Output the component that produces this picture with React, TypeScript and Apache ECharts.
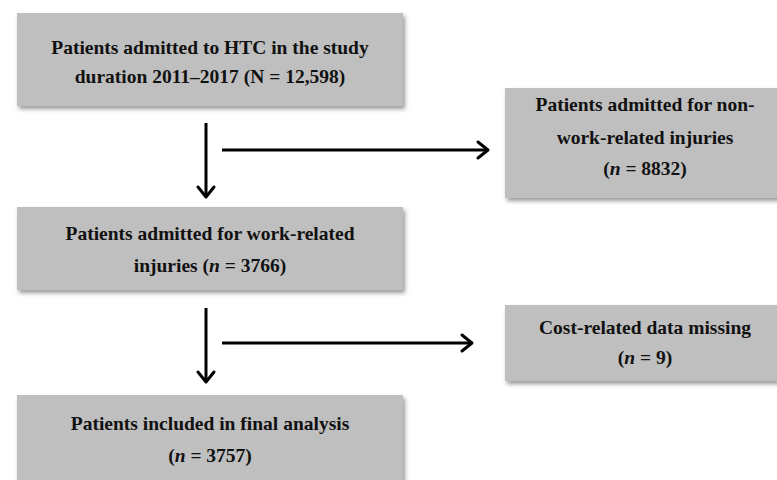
import React, { useEffect, useRef } from "react";
import * as echarts from "echarts";

const box1Lines = ["Patients admitted to HTC in the study", "duration 2011–2017 (N = 12,598)"];
const box2Lines = ["Patients admitted for non-", "work-related injuries", "({i|n} = 8832)"];
const box3Lines = ["Patients admitted for work-related", "injuries ({i|n} = 3766)"];
const box4Lines = ["Cost-related data missing", "({i|n} = 9)"];
const box5Lines = ["Patients included in final analysis", "({i|n} = 3757)"];

const FONT = "Liberation Serif";
const FS = 19.5;
const BOX_FILL = "#bfbfbf";

function boxEl(x: number, y: number, w: number, h: number, lines: string[], lineYs: number[]) {
  const children: any[] = [
    {
      type: "rect",
      shape: { x, y, width: w, height: h },
      style: {
        fill: BOX_FILL,
        shadowBlur: 4,
        shadowOffsetX: 2,
        shadowOffsetY: 3,
        shadowColor: "rgba(0,0,0,0.4)",
      },
    },
  ];
  lines.forEach((t, i) => {
    children.push({
      type: "text",
      x: x + w / 2,
      y: lineYs[i],
      style: {
        text: t,
        fill: "#111",
        fontFamily: FONT,
        fontWeight: "bold",
        fontSize: FS,
        align: "center",
        verticalAlign: "middle",
        rich: {
          i: { fontStyle: "italic", fontWeight: "bold", fontSize: FS, fontFamily: FONT, fill: "#111" },
        },
      },
    });
  });
  return { type: "group", children };
}

function arrowDown(x: number, y1: number, y2: number) {
  return [
    { type: "line", shape: { x1: x, y1, x2: x, y2: y2 - 1 }, style: { stroke: "#000", lineWidth: 3 } },
    {
      type: "polyline",
      shape: { points: [[x - 8, y2 - 10], [x, y2], [x + 8, y2 - 10]] },
      style: { stroke: "#000", lineWidth: 3, fill: "none", lineCap: "round", lineJoin: "round" },
    },
  ];
}

function arrowRight(x1: number, x2: number, y: number) {
  return [
    { type: "line", shape: { x1, y1: y, x2: x2 - 1, y2: y }, style: { stroke: "#000", lineWidth: 3 } },
    {
      type: "polyline",
      shape: { points: [[x2 - 10, y - 8], [x2, y], [x2 - 10, y + 8]] },
      style: { stroke: "#000", lineWidth: 3, fill: "none", lineCap: "round", lineJoin: "round" },
    },
  ];
}

export default function App() {
  const ref = useRef<HTMLDivElement>(null);
  useEffect(() => {
    if (!ref.current) return;
    const chart = echarts.init(ref.current, undefined, { renderer: "svg" });
    chart.setOption({
      animation: false,
      backgroundColor: "#ffffff",
      graphic: [
        boxEl(17, 13, 386, 93, box1Lines, [47, 76]),
        boxEl(505, 88, 280, 110, box2Lines, [104, 137, 168]),
        boxEl(17, 207, 386, 83, box3Lines, [233, 265]),
        boxEl(505, 305, 280, 76, box4Lines, [327, 357]),
        boxEl(17, 395, 386, 100, box5Lines, [423, 455]),
        ...arrowDown(206, 123, 197),
        ...arrowRight(222, 488, 150),
        ...arrowDown(206, 308, 382),
        ...arrowRight(222, 472, 343),
      ],
    });
    return () => chart.dispose();
  }, []);
  return (
    <div
      ref={ref}
      style={{ position: "fixed", left: 0, top: 0, width: 777, height: 480 }}
    />
  );
}
